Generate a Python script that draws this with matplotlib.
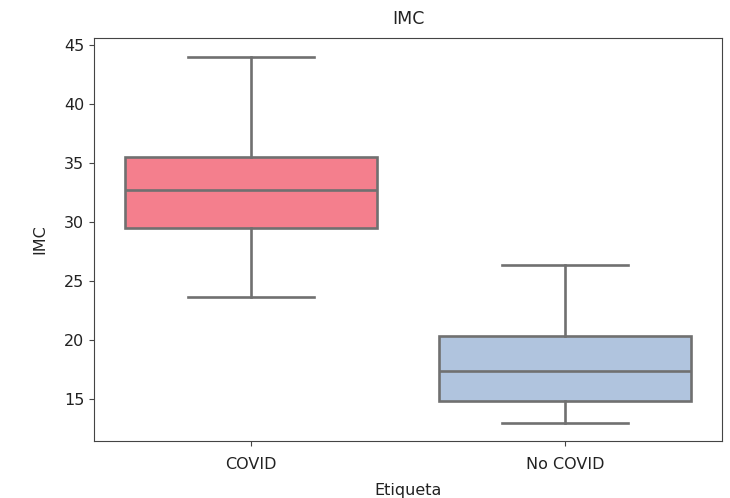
import matplotlib.pyplot as plt

# categories and five-number summaries
labels = ["COVID", "No COVID"]
whislo = [23.6, 12.9]
q1 = [29.5, 14.8]
med = [32.7, 17.3]
q3 = [35.5, 20.3]
whishi = [44.0, 26.3]
colors = ["#f47f8d", "#b0c4de"]

stats = [
    dict(label=labels[i], whislo=whislo[i], q1=q1[i], med=med[i],
         q3=q3[i], whishi=whishi[i], fliers=[])
    for i in range(len(labels))
]

line_color = "#707070"
fig = plt.figure(figsize=(7.3, 4.98), dpi=100)
ax = fig.add_axes([94 / 730, 57 / 498, 628 / 730, 403 / 498])

bp = ax.bxp(stats, positions=range(len(labels)), widths=0.8,
            patch_artist=True, showfliers=False,
            boxprops=dict(edgecolor=line_color, linewidth=1.9),
            medianprops=dict(color=line_color, linewidth=1.9),
            whiskerprops=dict(color=line_color, linewidth=1.9),
            capprops=dict(color=line_color, linewidth=1.9),
            capwidths=0.4)
for patch, c in zip(bp["boxes"], colors):
    patch.set_facecolor(c)

ax.set_xlim(-0.5, 1.5)
ax.set_ylim(11.4, 45.6)
ax.set_yticks([15, 20, 25, 30, 35, 40, 45])
ax.set_xticks(range(len(labels)))
ax.set_xticklabels(labels)
ax.tick_params(labelsize=11.5, color="#444444", labelcolor="#222222")
ax.tick_params(axis="x", pad=8)
for s in ax.spines.values():
    s.set_color("#444444")
ax.set_title("IMC", fontsize=12.5, color="#222222", pad=10)
ax.set_xlabel("Etiqueta", fontsize=11.5, color="#222222", labelpad=8)
ax.set_ylabel("IMC", fontsize=11.5, color="#222222", labelpad=12)

fig.savefig("out.png", dpi=100)
